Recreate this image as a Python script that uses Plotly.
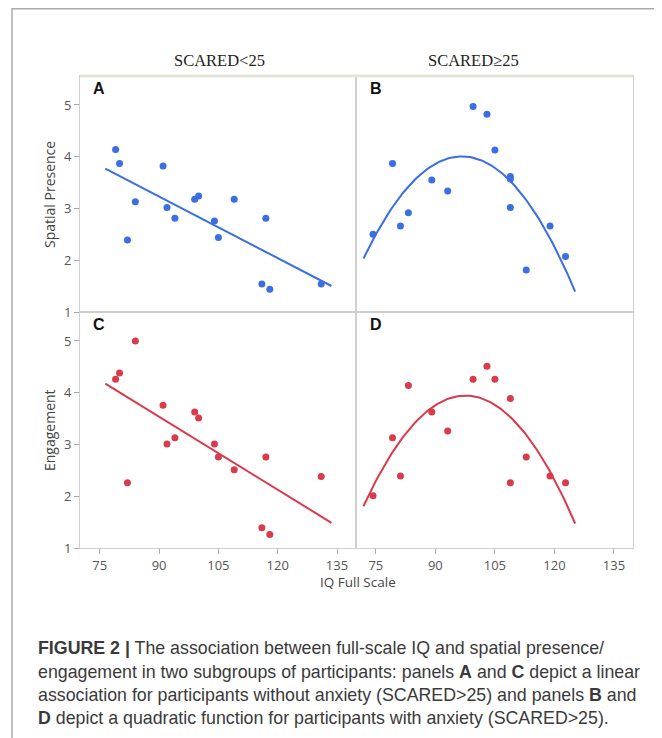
import numpy as np
import plotly.graph_objects as go

# ---------------- data ----------------
iq_low = [79, 80, 84, 82, 91, 92, 94, 99, 100, 104, 105, 109, 117, 116, 118, 131]
spatial_low = [4.14, 3.87, 3.13, 2.39, 3.82, 3.02, 2.81, 3.18, 3.24, 2.76, 2.44, 3.18, 2.81, 1.54, 1.44, 1.54]
engage_low = [4.26, 4.38, 5.00, 2.26, 3.76, 3.01, 3.13, 3.63, 3.51, 3.01, 2.76, 2.51, 2.76, 1.39, 1.26, 2.38]

iq_high_b = [74.3, 79.2, 81.2, 83.2, 89.1, 93.1, 99.5, 103, 105, 108.9, 108.9, 108.9, 112.9, 118.9, 122.8]
spatial_high = [2.50, 3.87, 2.66, 2.92, 3.55, 3.34, 4.97, 4.82, 4.13, 3.62, 3.57, 3.02, 1.81, 2.66, 2.07]

iq_high_d = [74.3, 79.2, 81.2, 83.2, 89.1, 93.1, 99.5, 103, 105, 108.9, 108.9, 112.9, 118.9, 122.8]
engage_high = [2.01, 3.13, 2.39, 4.14, 3.63, 3.26, 4.26, 4.51, 4.26, 3.89, 2.26, 2.76, 2.39, 2.26]

x_ticks = [75, 90, 105, 120, 135]
y_ticks = [1, 2, 3, 4, 5]
col_titles = ["SCARED<25", "SCARED≥25"]
panel_letters = ["A", "B", "C", "D"]
y_titles = ["Spatial Presence", "Engagement"]
x_title = "IQ Full Scale"
caption_lines = [
    "<b>FIGURE 2 |</b> The association between full-scale IQ and spatial presence/",
    "engagement in two subgroups of participants: panels <b>A</b> and <b>C</b> depict a linear",
    "association for participants without anxiety (SCARED>25) and panels <b>B</b> and",
    "<b>D</b> depict a quadratic function for participants with anxiety (SCARED>25).",
]

BLUE = "#3b6ee3"
RED = "#d93a4c"

# ---------------- layout geometry (page pixels; body margin 8px) ----------------
OFF = 8
W, H = 662 - OFF, 738 - OFF
L, R, T, B = 80 - OFF, 29, 76 - OFF, 190
PW, PH = W - L - R, H - T - B


def px(x):
    return (x - OFF - L) / PW


def py(y):
    return (H - B - (y - OFF)) / PH


xsplit = px(356)


def fit_curve(x, y, deg):
    x = np.asarray(x, float)
    y = np.asarray(y, float)
    c = np.polyfit(x, y, deg)
    ext = 0.05 * (x.max() - x.min())
    xs = np.linspace(x.min() - ext, x.max() + ext, 120)
    return xs, np.polyval(c, xs)


fig = go.Figure()

panels = [
    (iq_low, spatial_low, BLUE, 1, "x", "y"),
    (iq_high_b, spatial_high, BLUE, 2, "x2", "y2"),
    (iq_low, engage_low, RED, 1, "x3", "y3"),
    (iq_high_d, engage_high, RED, 2, "x4", "y4"),
]

for xd, yd, col, deg, xa, ya in panels:
    xs, ys = fit_curve(xd, yd, deg)
    fig.add_trace(go.Scatter(x=xs, y=ys, mode="lines", line=dict(color=col, width=2),
                             xaxis=xa, yaxis=ya, showlegend=False, hoverinfo="skip"))
    fig.add_trace(go.Scatter(x=xd, y=yd, mode="markers", marker=dict(color=col, size=7),
                             xaxis=xa, yaxis=ya, showlegend=False))

tick_font = dict(family="Open Sans, Noto Sans, sans-serif", size=13, color="#555555")
line_col = "#cfcfcf"

common_x = dict(range=[70, 139.8], tickvals=x_ticks, showgrid=False, zeroline=False,
                showline=True, mirror=True, linecolor=line_col, linewidth=1,
                tickfont=tick_font, ticklen=5, tickcolor="#aaaaaa")
common_y = dict(range=[1, 5.56], tickvals=y_ticks, showgrid=False, zeroline=False,
                showline=True, mirror=True, linecolor=line_col, linewidth=1,
                tickfont=tick_font, ticklen=5, tickcolor="#aaaaaa")

fig.update_layout(
    width=W, height=H,
    margin=dict(l=L, r=R, t=T, b=B),
    paper_bgcolor="white", plot_bgcolor="white",
    xaxis=dict(common_x, domain=[0, xsplit], anchor="y", showticklabels=False, ticks=""),
    yaxis=dict(common_y, domain=[0.5, 1], anchor="x", ticks="outside"),
    xaxis2=dict(common_x, domain=[xsplit, 1], anchor="y2", showticklabels=False, ticks=""),
    yaxis2=dict(common_y, domain=[0.5, 1], anchor="x2", showticklabels=False, ticks=""),
    xaxis3=dict(common_x, domain=[0, xsplit], anchor="y3", ticks="outside"),
    yaxis3=dict(common_y, domain=[0, 0.5], anchor="x3", ticks="outside"),
    xaxis4=dict(common_x, domain=[xsplit, 1], anchor="y4", ticks="outside"),
    yaxis4=dict(common_y, domain=[0, 0.5], anchor="x4", showticklabels=False, ticks=""),
)

ann = []
# column titles
for t, cx in zip(col_titles, [219, 473]):
    ann.append(dict(text=t, x=px(cx), y=py(61), xref="paper", yref="paper", showarrow=False,
                    xanchor="center", yanchor="middle",
                    font=dict(family="Liberation Serif, Times New Roman, serif", size=16.5, color="#222222")))
# panel letters
for t, (lx, ly) in zip(panel_letters, [(91, 88), (368, 88), (91, 324), (368, 324)]):
    ann.append(dict(text="<b>%s</b>" % t, x=px(lx), y=py(ly), xref="paper", yref="paper", showarrow=False,
                    xanchor="left", yanchor="middle",
                    font=dict(family="Liberation Sans, Arial, sans-serif", size=16, color="#111111")))
# y titles
for t, cy in zip(y_titles, [195, 430]):
    ann.append(dict(text=t, x=px(49), y=py(cy), xref="paper", yref="paper", showarrow=False,
                    textangle=-90, xanchor="center", yanchor="middle",
                    font=dict(family="Open Sans, Noto Sans, sans-serif", size=14, color="#444444")))
# x title
ann.append(dict(text=x_title, x=px(358), y=py(582), xref="paper", yref="paper", showarrow=False,
                xanchor="center", yanchor="middle",
                font=dict(family="Open Sans, Noto Sans, sans-serif", size=13.5, color="#444444")))
# caption
for t, cy in zip(caption_lines, [648, 672, 695, 718]):
    ann.append(dict(text=t, x=px(36), y=py(cy), xref="paper", yref="paper", showarrow=False,
                    xanchor="left", yanchor="middle",
                    font=dict(family="Liberation Sans, Arial, sans-serif", size=17.8, color="#3a3a3a")))
fig.update_layout(annotations=ann)

shapes = [
    # outer figure frame
    dict(type="rect", xref="paper", yref="paper", x0=px(12), x1=px(660.5), y0=py(760), y1=py(8.8),
         line=dict(color="#aaaaaa", width=1.5), fillcolor="rgba(0,0,0,0)", layer="below"),
    # top border of plot area (light greenish)
    dict(type="line", xref="paper", yref="paper", x0=0, x1=1, y0=1, y1=1,
         line=dict(color="#e2e5d8", width=3)),
]
fig.update_layout(shapes=shapes)

fig.write_html("out.html")
